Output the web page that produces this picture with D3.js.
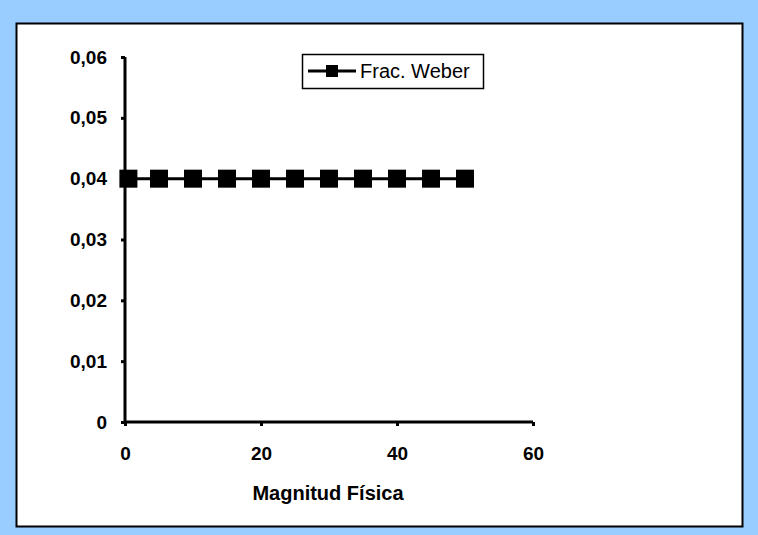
<!DOCTYPE html>
<html>
<head>
<meta charset="utf-8">
<script src="https://cdn.jsdelivr.net/npm/d3@7"></script>
<style>
  body { margin: 0; background: #99ccff; }
  svg { display: block; font-family: "Liberation Sans", Arial, sans-serif; }
</style>
</head>
<body>
<svg id="chart" width="758" height="535"></svg>
<script>
var xValues = [0.5, 5, 10, 15, 20, 25, 30, 35, 40, 45, 50];
var weberValues = [0.04, 0.04, 0.04, 0.04, 0.04, 0.04, 0.04, 0.04, 0.04, 0.04, 0.04];
var xTicks = [0, 20, 40, 60];
var yTicks = [0, 0.01, 0.02, 0.03, 0.04, 0.05, 0.06];
var seriesName = "Frac. Weber";
var xTitle = "Magnitud Física";

var svg = d3.select("#chart");

// white panel
svg.append("rect").attr("x", 16.5).attr("y", 23.5).attr("width", 726).attr("height", 503)
    .attr("fill", "#fff").attr("stroke", "#000").attr("stroke-width", 2);

var x = d3.scaleLinear().domain([0, 60]).range([125, 533]);
var y = d3.scaleLinear().domain([0, 0.06]).range([422, 57]);

var fmt = function(d) { return d === 0 ? "0" : d3.format(".2f")(d).replace(".", ","); };

var yAxis = svg.append("g").attr("transform", "translate(125,0)")
    .call(d3.axisLeft(y).tickValues(yTicks).tickSize(4).tickPadding(14).tickFormat(fmt));
var xAxis = svg.append("g").attr("transform", "translate(0,422)")
    .call(d3.axisBottom(x).tickValues(xTicks).tickSize(4).tickPadding(21).tickFormat(d3.format("d")));

[yAxis, xAxis].forEach(function(a) {
    a.selectAll(".tick line").attr("stroke-width", 3);
    a.selectAll(".tick text").attr("font-size", 19).attr("font-weight", "bold")
        .attr("font-family", "Liberation Sans, Arial, sans-serif").attr("fill", "#000");
});
yAxis.select(".domain").attr("stroke-width", 3).attr("d", "M0," + y(0.06) + "V" + y(0));
xAxis.select(".domain").attr("stroke-width", 3).attr("d", "M" + x(0) + ",0H" + x(60));

svg.append("text").attr("x", 328).attr("y", 500).attr("text-anchor", "middle")
    .attr("font-size", 20).attr("font-weight", "bold").text(xTitle);

// series
var pts = xValues.map(function(d, i) { return [d, weberValues[i]]; });
svg.append("path").datum(pts)
    .attr("d", d3.line().x(function(d) { return x(d[0]); }).y(function(d) { return y(d[1]); }))
    .attr("fill", "none").attr("stroke", "#000").attr("stroke-width", 3);
var ms = 18;
svg.selectAll("rect.mk").data(pts).enter().append("rect").attr("class", "mk")
    .attr("x", function(d) { return x(d[0]) - ms / 2; })
    .attr("y", function(d) { return y(d[1]) - ms / 2; })
    .attr("width", ms).attr("height", ms).attr("fill", "#000");

// legend
var lg = svg.append("g").attr("transform", "translate(302,54)");
lg.append("rect").attr("x", 0.5).attr("y", 0.5).attr("width", 181).attr("height", 34)
    .attr("fill", "#fff").attr("stroke", "#000").attr("stroke-width", 1.5);
lg.append("line").attr("x1", 6).attr("x2", 54).attr("y1", 17).attr("y2", 17)
    .attr("stroke", "#000").attr("stroke-width", 3);
lg.append("rect").attr("x", 24).attr("y", 11).attr("width", 12).attr("height", 12).attr("fill", "#000");
lg.append("text").attr("x", 58).attr("y", 24).attr("font-size", 20).text(seriesName);
</script>
</body>
</html>
